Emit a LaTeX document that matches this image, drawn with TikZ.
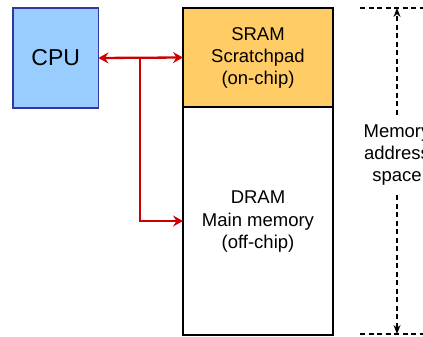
\documentclass[tikz,border=0pt]{standalone}
\usepackage{fontspec}
\setmainfont{Liberation Sans}
\usetikzlibrary{arrows.meta}
\definecolor{cpufill}{HTML}{99CCFF}
\definecolor{cpuline}{HTML}{3535A5}
\definecolor{sramfill}{HTML}{FFCC66}
\definecolor{busred}{HTML}{CC0000}
\tikzset{
  block/.style={draw, rectangle, inner sep=0pt, outer sep=0pt, line width=1.9pt,
    align=center, font=\fontsize{18.5}{22}\selectfont},
  bustip/.tip={Stealth[length=10pt,width=11pt,inset=3.5pt]},
  bus/.style={draw=busred, line width=2.3pt, -bustip},
  span/.style={draw, line width=1.2pt, dash pattern=on 5pt off 3.5pt},
  spanarrow/.style={span, -{Stealth[length=9pt,width=7pt]}},
}
\begin{document}
\begin{tikzpicture}[x=1pt,y=-1pt]
  \useasboundingbox (0,0) rectangle (423,337);
  % processor
  \node[block, draw=cpuline, fill=cpufill, minimum width=85.5pt, minimum height=99.5pt,
        font=\fontsize{23}{26}\selectfont] (cpu) at (55.7,58) {CPU};
  % on-chip and off-chip memories
  \node[block, fill=sramfill, minimum width=150pt, minimum height=99pt] (sram) at (258,57.5)
    {SRAM\\Scratchpad\\(on-chip)};
  \node[block, minimum width=150pt, minimum height=228pt] (dram) at (258,221) {};
  \node[align=center, font=\fontsize{18.5}{22.5}\selectfont] (dramtxt) at (258,222)
    {DRAM\\Main memory\\(off-chip)};
  % bus from the processor to both memories
  \coordinate (fork) at (140,58);
  \draw[bus, bustip-bustip] (cpu.east) -- (sram.west);
  \draw[bus] (fork) |- (dram.west);
  % extent of the address space
  \coordinate (spantop) at (397,8);
  \coordinate (spanbot) at (397,334);
  \draw[span] (360,8) -- (430,8);
  \draw[span] (360,334) -- (430,334);
  \node[align=center, inner ysep=10pt, font=\fontsize{18.5}{22}\selectfont] (mem) at (397,155)
    {Memory\\address\\space};
  \draw[spanarrow] (mem.north) -- (spantop);
  \draw[spanarrow] (mem.south) -- (spanbot);
\end{tikzpicture}
\end{document}
